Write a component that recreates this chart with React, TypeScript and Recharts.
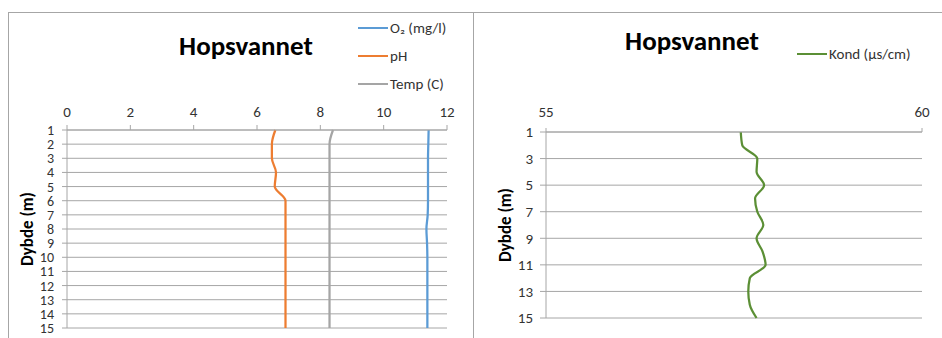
import { LineChart, Line, XAxis, YAxis, CartesianGrid, Legend, Label } from "recharts";

const depths = [1, 2, 3, 4, 5, 6, 7, 8, 9, 10, 11, 12, 13, 14, 15];
const o2 = [11.42, 11.41, 11.4, 11.4, 11.4, 11.4, 11.39, 11.35, 11.37, 11.38, 11.38, 11.38, 11.38, 11.38, 11.38];
const ph = [6.58, 6.47, 6.47, 6.6, 6.56, 6.9, 6.9, 6.9, 6.9, 6.9, 6.9, 6.9, 6.9, 6.9, 6.9];
const temp = [8.4, 8.29, 8.29, 8.29, 8.29, 8.29, 8.29, 8.29, 8.29, 8.29, 8.29, 8.29, 8.29, 8.29, 8.29];
const kond = [57.59, 57.61, 57.81, 57.8, 57.9, 57.78, 57.81, 57.89, 57.8, 57.88, 57.92, 57.71, 57.69, 57.71, 57.8];

const leftTicks = [0, 2, 4, 6, 8, 10, 12];
const rightTicks = [55, 60];
const oddDepths = [1, 3, 5, 7, 9, 11, 13, 15];
const legendOrder = ["o2", "ph", "temp", "kond"];

const leftData = depths.map((d, i) => ({ depth: d, o2: o2[i], ph: ph[i], temp: temp[i] }));
const rightData = depths.map((d, i) => ({ depth: d, kond: kond[i] }));

const FONT = "Carlito, Lato, 'Liberation Sans', sans-serif";
const AXIS = "#a6a6a6";
const tickStyle = { fill: "#333", fontSize: 15, fontFamily: FONT };
// the 1..15 depth ticks sit only 14px apart
const denseTickStyle = { ...tickStyle, fontSize: 14 };

function LegendBox({ payload }: { payload?: any[] }) {
  return (
    <div style={{ fontFamily: FONT, fontSize: 15, color: "#333" }}>
      {(payload || []).map((p: any) => (
        <div key={p.value} style={{ display: "flex", alignItems: "center", height: 28 }}>
          <span style={{ width: 30, borderTop: `2.25px solid ${p.color}` }} />
          <span style={{ marginLeft: 2, whiteSpace: "nowrap" }}>{p.value}</span>
        </div>
      ))}
    </div>
  );
}

const depthLabel = (x: number) => (props: any) => {
  const vb = props.viewBox || {};
  const cy = vb.y + vb.height / 2;
  return (
    <text
      x={x}
      y={cy}
      transform={`rotate(-90 ${x} ${cy})`}
      textAnchor="middle"
      dominantBaseline="central"
      fontFamily={FONT}
      fontSize={17}
      fontWeight="bold"
      fill="#000"
    >
      Dybde (m)
    </text>
  );
};

const sortLegend = (item: any) => legendOrder.indexOf(item.dataKey);

export default function App() {
  return (
    <div style={{ position: "absolute", left: 0, top: 0, width: 942, height: 338, background: "#fff", overflow: "hidden" }}>
      <div style={{ position: "absolute", left: 8, top: 12, width: 465, height: 326, boxSizing: "border-box", borderTop: `1px solid ${AXIS}`, borderLeft: `1px solid ${AXIS}` }}>
        <LineChart width={464} height={325} data={leftData} layout="vertical" margin={{ top: 97, right: 26, bottom: 10, left: 0 }}>
          <CartesianGrid vertical={false} stroke={AXIS} />
          <XAxis type="number" orientation="top" domain={[0, 12]} ticks={leftTicks} height={20} tickSize={5} tickMargin={8} stroke={AXIS} tick={tickStyle} />
          <YAxis type="number" dataKey="depth" domain={[1, 15]} ticks={depths} interval={0} width={58} tickSize={5} tickMargin={8} stroke={AXIS} tick={denseTickStyle}>
            <Label content={depthLabel(18)} />
          </YAxis>
          <Legend layout="vertical" align="center" verticalAlign="middle" itemSorter={sortLegend} wrapperStyle={{ top: 1, left: 349, width: 120 }} content={(p: any) => <LegendBox payload={p.payload} />} />
          <Line type="monotoneY" dataKey="o2" name="O₂ (mg/l)" stroke="#5b9bd5" strokeWidth={2.25} dot={false} isAnimationActive={false} />
          <Line type="monotoneY" dataKey="ph" name="pH" stroke="#ed7d31" strokeWidth={2.25} dot={false} isAnimationActive={false} />
          <Line type="monotoneY" dataKey="temp" name="Temp (C)" stroke="#a5a5a5" strokeWidth={2.25} dot={false} isAnimationActive={false} />
        </LineChart>
      </div>
      <div style={{ position: "absolute", left: 473, top: 12, width: 469, height: 326, boxSizing: "border-box", borderTop: `1px solid ${AXIS}`, borderLeft: `1px solid ${AXIS}` }}>
        <LineChart width={468} height={325} data={rightData} layout="vertical" margin={{ top: 99, right: 20, bottom: 20, left: 0 }}>
          <CartesianGrid vertical={false} stroke={AXIS} />
          <XAxis type="number" orientation="top" domain={[55, 60]} ticks={rightTicks} height={20} tickSize={4} tickMargin={11} stroke={AXIS} tick={tickStyle} />
          <YAxis type="number" dataKey="depth" domain={[1, 15]} ticks={oddDepths} interval={0} width={72} tickSize={6} tickMargin={7} stroke={AXIS} tick={tickStyle}>
            <Label content={depthLabel(31)} />
          </YAxis>
          <Legend layout="vertical" align="center" verticalAlign="middle" itemSorter={sortLegend} wrapperStyle={{ top: 27, left: 323, width: 130 }} content={(p: any) => <LegendBox payload={p.payload} />} />
          <Line type="monotoneY" dataKey="kond" name="Kond (µs/cm)" stroke="#5b8f35" strokeWidth={2.25} dot={false} isAnimationActive={false} />
        </LineChart>
      </div>
      <svg width={942} height={338} style={{ position: "absolute", left: 0, top: 0, pointerEvents: "none" }}>
        <text x={246} y={55} textAnchor="middle" fontFamily={FONT} fontSize={27} fontWeight="bold" fill="#000">Hopsvannet</text>
        <text x={692} y={50} textAnchor="middle" fontFamily={FONT} fontSize={27} fontWeight="bold" fill="#000">Hopsvannet</text>
      </svg>
    </div>
  );
}
